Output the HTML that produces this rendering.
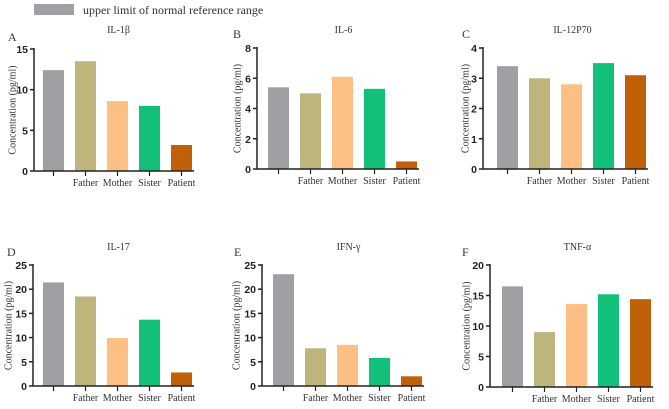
<!DOCTYPE html>
<html><head><meta charset="utf-8"><style>
body{margin:0;background:#fff;}
svg{display:block;}
text{font-family:"Liberation Serif",serif;fill:#333;}
.tick{font-family:"Liberation Sans",sans-serif;font-weight:bold;font-size:10.5px;fill:#222;}
</style></head><body>
<svg id="chart" width="669" height="409" xmlns="http://www.w3.org/2000/svg">
<rect x="34" y="4" width="40" height="11" fill="#a09fa4"/>
<text x="83" y="14" font-size="12">upper limit of normal reference range</text>
</svg>
<script>
const categories = ["", "Father", "Mother", "Sister", "Patient"];
const titles = ["IL-1β", "IL-6", "IL-12P70", "IL-17", "IFN-γ", "TNF-α"];
const letters = ["A", "B", "C", "D", "E", "F"];
const valsA = [12.4, 13.5, 8.6, 8.0, 3.2];
const valsB = [5.4, 5.0, 6.1, 5.3, 0.5];
const valsC = [3.4, 3.0, 2.8, 3.5, 3.1];
const valsD = [21.4, 18.5, 9.9, 13.7, 2.8];
const valsE = [23.1, 7.8, 8.5, 5.8, 2.0];
const valsF = [16.5, 9.0, 13.6, 15.2, 14.4];
const ticksA = [0, 5, 10, 15];
const ticksB = [0, 2, 4, 6, 8];
const ticksC = [0, 1, 2, 3, 4];
const ticksD = [0, 5, 10, 15, 20, 25];
const ticksE = [0, 5, 10, 15, 20, 25];
const ticksF = [0, 5, 10, 15, 20];
const series = [valsA, valsB, valsC, valsD, valsE, valsF];
const tickSets = [ticksA, ticksB, ticksC, ticksD, ticksE, ticksF];
const colors = ["#a09fa4", "#beb57c", "#fdc084", "#13c07a", "#c06008"];
// layout: axisX, topY, zeroY, barStart, letterX, letterY, ytitleX
const layout = [
 [34, 49, 171, 43, 8, 41, 13],
 [257, 48, 169, 268, 233, 38, 238],
 [483, 48, 169, 497, 462, 38, 466],
 [33, 265, 386, 43, 7, 256, 9],
 [262, 265, 386, 273, 234, 256, 237],
 [490, 265, 387, 502, 462, 256, 467]
];
const NS = "http://www.w3.org/2000/svg";
const svg = document.getElementById("chart");
function mk(tag, attrs, txt){const e=document.createElementNS(NS,tag);for(const k in attrs)e.setAttribute(k,attrs[k]);if(txt!==undefined)e.textContent=txt;svg.appendChild(e);return e;}
const BW = 21, STEP = 32;
for (let p = 0; p < 6; p++) {
  const [ax, top, zero, bs, lx, ly, tx] = layout[p];
  const vals = series[p], ticks = tickSets[p];
  const ymax = ticks[ticks.length - 1];
  const y = v => zero - (v / ymax) * (zero - top);
  const xb = i => bs + i * STEP;
  const end = xb(4) + BW + 2;
  let e;
  e = mk("text", {x: lx, y: ly, "font-size": 12}, letters[p]);
  
  
  e = mk("text", {x: (bs + end) / 2, y: p < 3 ? 33 : 250, "font-size": 10, "text-anchor": "middle"}, titles[p]);
  
  
  const cy = (top + zero) / 2;
  e = mk("text", {x: tx, y: cy, "font-size": 10, "text-anchor": "middle", transform: `rotate(-90 ${tx} ${cy})`, "dominant-baseline": "middle"}, "Concentration (pg/ml)");
  
  
  vals.forEach((v, i) => {
    const r = mk("rect", {x: xb(i), y: y(v), width: BW, height: zero - y(v), fill: colors[i]});
    
    
    const t = mk("line", {x1: xb(i) + BW / 2, x2: xb(i) + BW / 2, y1: zero, y2: zero + 5, stroke: "#222", "stroke-width": 1.2});
    
    
    if (categories[i]) {
      const l = mk("text", {x: xb(i) + BW / 2, y: zero + 15, "font-size": 10, "text-anchor": "middle"}, categories[i]);
      
      
    }
  });
  e = mk("line", {x1: ax, x2: ax, y1: top - 1, y2: zero, stroke: "#222", "stroke-width": 1.5});
  
  
  e = mk("line", {x1: ax, x2: end, y1: zero, y2: zero, stroke: "#222", "stroke-width": 1.5});
  
  
  ticks.forEach(t => {
    const l = mk("line", {x1: ax - 4, x2: ax, y1: y(t), y2: y(t), stroke: "#222", "stroke-width": 1.5});
    
    
    const tt = mk("text", {x: ax - 6, y: y(t) + 4, "text-anchor": "end", class: "tick"}, String(t));
    
    
  });
}
</script>
</body></html>
